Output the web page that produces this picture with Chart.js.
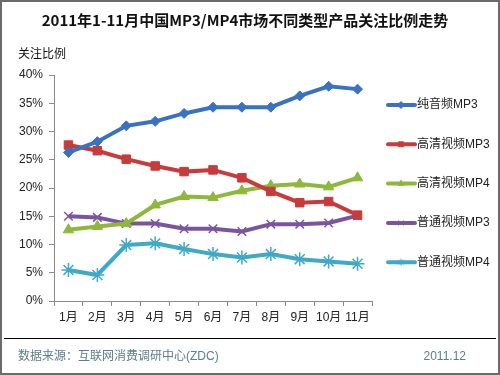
<!DOCTYPE html>
<html><head><meta charset="utf-8">
<script src="https://cdn.jsdelivr.net/npm/chart.js@4/dist/chart.umd.min.js"></script>
<style>
html,body{margin:0;padding:0;background:#fff;}
#wrap{position:relative;width:500px;height:375px;}
canvas{position:absolute;left:0;top:0;}
</style></head>
<body><div id="wrap"><canvas id="c" width="500" height="375"></canvas></div>
<script>
const months = ["1月","2月","3月","4月","5月","6月","7月","8月","9月","10月","11月"];
const seriesNames = ["纯音频MP3","高清视频MP3","高清视频MP4","普通视频MP3","普通视频MP4"];
const pureAudioMP3 = [26.3,28.2,31.0,31.8,33.2,34.3,34.3,34.3,36.3,38.0,37.5];
const hdVideoMP3   = [27.6,26.6,25.1,23.9,22.9,23.2,21.8,19.4,17.4,17.6,15.2];
const hdVideoMP4   = [12.6,13.2,13.7,17.0,18.5,18.3,19.5,20.4,20.7,20.2,21.8];
const normVideoMP3 = [15.0,14.8,13.7,13.7,12.8,12.8,12.3,13.6,13.6,13.8,15.1];
const normVideoMP4 = [5.5,4.6,9.9,10.2,9.2,8.3,7.7,8.3,7.4,7.0,6.6];
const yTicks = [0,5,10,15,20,25,30,35,40];
const titleText = "2011年1-11月中国MP3/MP4市场不同类型产品关注比例走势";
const yAxisTitle = "关注比例";
const sourceText = "数据来源：互联网消费调研中心(ZDC)";
const dateText = "2011.12";

const colors = ["#3a72c2","#c63b3b","#8db83b","#7b549f","#3fa9c6"];
const styles = ["rectRot","rect","triangle","crossRot","star"];
const radii = [5,6,6,6,7];
const allData = [pureAudioMP3,hdVideoMP3,hdVideoMP4,normVideoMP3,normVideoMP4];
const FONT = "'Liberation Sans', 'Noto Sans CJK SC', sans-serif";
const TFONT = "'Noto Sans CJK SC', sans-serif";

const datasets = allData.map((d,i)=>({
  label: seriesNames[i], data: d,
  borderColor: colors[i], backgroundColor: colors[i],
  borderWidth: 4, pointStyle: styles[i], pointRadius: radii[i],
  pointBorderColor: colors[i], pointBackgroundColor: colors[i], pointBorderWidth: i>=3?1.5:1,
  tension: 0, order: i
}));

const decor = {
  id:'decor',
  afterDraw(chart){
    const ctx = chart.ctx;
    ctx.save();
    ctx.strokeStyle = "#6b6b6b"; ctx.lineWidth = 2;
    ctx.strokeRect(1,1,498,373);
    ctx.fillStyle = "#111"; ctx.font = "bold 15px " + TFONT;
    ctx.textAlign = "center"; ctx.textBaseline = "middle";
    ctx.fillText(titleText, 245, 20);
    ctx.font = "12px " + TFONT; ctx.textAlign = "left";
    ctx.fillText(yAxisTitle, 18, 53);
    ctx.strokeStyle = "#000"; ctx.lineWidth = 1;
    ctx.beginPath(); ctx.moveTo(4,338.5); ctx.lineTo(496,338.5); ctx.stroke();
    ctx.fillStyle = "#5b7d8c"; ctx.font = "12px " + FONT;
    ctx.fillText(sourceText, 18, 357);
    ctx.textAlign = "right";
    ctx.fillText(dateText, 466, 357);
    chart.data.datasets.forEach((ds,i)=>{
      const y = 105 + i*39.3;
      ctx.strokeStyle = ds.borderColor; ctx.fillStyle = ds.borderColor;
      ctx.lineWidth = 4; ctx.lineCap = "round";
      ctx.beginPath(); ctx.moveTo(388,y); ctx.lineTo(415,y); ctx.stroke();
      ctx.lineCap = "butt"; ctx.lineWidth = 1;
      Chart.helpers.drawPoint(ctx, {pointStyle: ds.pointStyle, radius: 3.5, borderWidth: 1, rotation:0}, 401, y);
      ctx.fillStyle = "#222"; ctx.font = "12px " + FONT; ctx.textAlign = "left"; ctx.textBaseline = "middle";
      ctx.fillText(ds.label, 417, y);
    });
    ctx.restore();
  }
};

new Chart(document.getElementById('c'), {
  type: 'line',
  data: { labels: months, datasets },
  options: {
    responsive: false, animation: false,
    layout: { padding: { left: 0, top: 75, right: 128, bottom: 49 } },
    plugins: { legend: { display: false }, title: { display: false }, tooltip: { enabled: false } },
    scales: {
      x: {
        offset: true,
        grid: { display: true, drawOnChartArea: false, offset: true, tickLength: 5, color: "#8a8a8a" },
        border: { display: true, color: "#8a8a8a" },
        ticks: { color: "#222", font: { size: 12, family: FONT }, padding: 4, maxRotation: 0, autoSkip: false },
        afterFit(s){ s.height = 25; }
      },
      y: {
        min: 0, max: 40,
        afterBuildTicks(s){ s.ticks = yTicks.map(v=>({value:v})); },
        grid: { display: true, drawOnChartArea: false, tickLength: 5, color: "#8a8a8a" },
        border: { display: true, color: "#8a8a8a" },
        ticks: { color: "#222", font: { size: 12, family: FONT }, padding: 6, callback: v => v + "%" },
        afterFit(s){ s.width = 54; }
      }
    }
  },
  plugins: [decor]
});
</script>
</body></html>
